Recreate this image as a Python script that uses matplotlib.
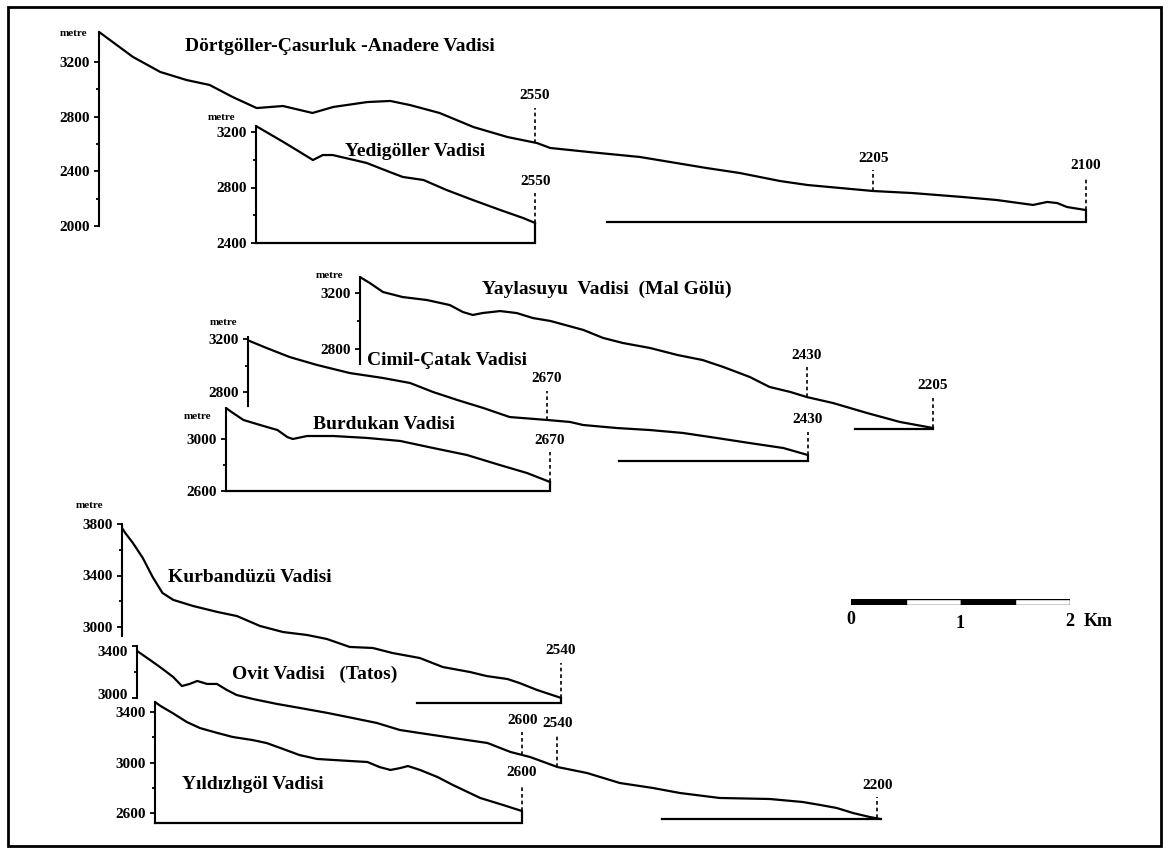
import numpy as np
import matplotlib
matplotlib.use("Agg")
import matplotlib.pyplot as plt
import matplotlib.transforms as mtransforms
from matplotlib.patches import Rectangle

plt.rcParams["font.family"] = ["Liberation Serif", "DejaVu Serif"]
plt.rcParams["font.weight"] = "bold"

# ---------------- data: distance along valley (km) and elevation (m) ----------------
dortgoller_km = [0.00, 0.10, 0.31, 0.56, 0.80, 1.01, 1.22, 1.44, 1.68, 1.95, 2.14, 2.45, 2.66, 2.84,
                 3.11, 3.42, 3.73, 4.00, 4.12, 4.48, 4.94, 5.55, 5.85, 6.22, 6.47, 7.07, 7.43, 7.89,
                 8.20, 8.53, 8.66, 8.75, 8.84, 9.01]
dortgoller_m = [3420, 3361, 3237, 3127, 3068, 3032, 2944, 2863, 2878, 2827, 2871, 2907, 2915, 2885,
                2827, 2724, 2651, 2607, 2571, 2541, 2505, 2424, 2388, 2329, 2300, 2256, 2241, 2212,
                2190, 2154, 2176, 2168, 2139, 2117]

yedigoller_km = [0.00, 0.25, 0.40, 0.52, 0.61, 0.70, 1.01, 1.22, 1.34, 1.53, 1.74, 1.98, 2.23, 2.44, 2.55]
yedigoller_m = [3243, 3128, 3056, 2998, 3034, 3034, 2977, 2912, 2876, 2854, 2782, 2710, 2638, 2580, 2544]

yaylasuyu_km = [0.00, 0.09, 0.21, 0.39, 0.61, 0.82, 0.94, 1.03, 1.12, 1.28, 1.43, 1.58, 1.74, 2.04,
                2.22, 2.40, 2.65, 2.90, 3.13, 3.32, 3.56, 3.74, 3.93, 4.08, 4.32, 4.63, 4.93, 5.23]
yaylasuyu_m = [3314, 3271, 3207, 3171, 3150, 3114, 3064, 3043, 3057, 3071, 3057, 3021, 3000, 2936,
               2879, 2843, 2807, 2757, 2721, 2671, 2600, 2529, 2493, 2457, 2414, 2343, 2279, 2236]

cimil_km = [0.00, 0.17, 0.38, 0.63, 0.93, 1.23, 1.48, 1.69, 1.91, 2.15, 2.39, 2.73, 2.94, 3.06,
            3.37, 3.67, 3.97, 4.28, 4.58, 4.89, 5.11]
cimil_m = [3190, 3132, 3064, 3004, 2943, 2906, 2868, 2800, 2740, 2679, 2611, 2589, 2574, 2551,
           2528, 2513, 2491, 2453, 2415, 2377, 2325]

burdukan_km = [0.00, 0.05, 0.16, 0.31, 0.47, 0.56, 0.61, 0.74, 0.98, 1.29, 1.59, 1.89, 2.20, 2.50, 2.75, 2.96]
burdukan_m = [3238, 3208, 3146, 3108, 3069, 3015, 3000, 3023, 3023, 3008, 2985, 2931, 2877, 2800, 2738, 2669]

kurbanduzu_km = [0.00, 0.03, 0.10, 0.19, 0.28, 0.37, 0.47, 0.65, 0.87, 1.05, 1.26, 1.47, 1.69, 1.87,
                 2.08, 2.29, 2.47, 2.72, 2.93, 3.18, 3.33, 3.52, 3.63, 3.79, 4.01]
kurbanduzu_m = [3769, 3730, 3652, 3536, 3388, 3264, 3210, 3163, 3117, 3085, 3008, 2961, 2938, 2907,
                2845, 2837, 2798, 2759, 2689, 2650, 2619, 2596, 2565, 2511, 2449]

ovit_km = [0.00, 0.12, 0.21, 0.33, 0.41, 0.48, 0.55, 0.64, 0.73, 0.82, 0.91, 1.06, 1.28, 1.49, 1.74,
           1.97, 2.19, 2.40, 2.58, 2.89, 3.20, 3.41, 3.59, 3.84, 4.11, 4.41, 4.71, 4.96, 5.32, 5.78,
           6.08, 6.24, 6.39, 6.54, 6.69, 6.79]
ovit_m = [3362, 3292, 3238, 3162, 3092, 3108, 3131, 3108, 3108, 3062, 3023, 2992, 2954, 2923, 2885,
          2846, 2808, 2754, 2731, 2692, 2654, 2585, 2546, 2469, 2423, 2346, 2308, 2269, 2231, 2223,
          2200, 2177, 2154, 2115, 2085, 2069]

yildizligol_km = [0.00, 0.05, 0.16, 0.29, 0.41, 0.57, 0.71, 0.89, 1.02, 1.17, 1.32, 1.48, 1.63, 1.78,
                  1.94, 2.05, 2.15, 2.24, 2.31, 2.42, 2.58, 2.72, 2.97, 3.18, 3.35]
yildizligol_m = [3479, 3448, 3392, 3321, 3273, 3234, 3202, 3178, 3154, 3107, 3059, 3028, 3020, 3012,
                 3004, 2964, 2941, 2956, 2972, 2941, 2885, 2822, 2719, 2663, 2616]

# valley names
names = ["Dörtgöller-Çasurluk -Anadere Vadisi", "Yedigöller Vadisi", "Yaylasuyu  Vadisi  (Mal Gölü)",
         "Cimil-Çatak Vadisi", "Burdukan Vadisi", "Kurbandüzü Vadisi", "Ovit Vadisi   (Tatos)",
         "Yıldızlıgöl Vadisi"]

# floor (base) line of each profile: start km and elevation
base_start_km = [4.64, 0.0, 4.52, 3.39, 0.0, 2.69, 4.79, 0.0]
base_m = [2029, 2400, 2229, 2279, 2600, 2410, 2068, 2521]

# marked points (km) and their elevation labels
marks_km = [[3.98, 7.07, 9.01], [2.55], [4.08, 5.23], [2.73, 5.11], [2.96], [4.01], [3.52, 3.84, 6.76], [3.35]]
marks_lbl = [["2550", "2205", "2100"], ["2550"], ["2430", "2205"], ["2670", "2430"], ["2670"], ["2540"],
             ["2600", "2540", "2200"], ["2600"]]

# y-axis ticks of each profile
major_ticks = [[2000, 2400, 2800, 3200], [2400, 2800, 3200], [2800, 3200], [2800, 3200], [2600, 3000],
               [3000, 3400, 3800], [3000, 3400], [2600, 3000, 3400]]
minor_ticks = [[2200, 2600, 3000], [2600, 3000], [3000], [3000], [2800], [3200, 3600], [3200], [2800, 3200]]
spine_range = [(2000, 3420), (2400, 3243), (2693, 3314), (2694, 3215), (2600, 3238), (2930, 3800),
               (3000, 3400), (2521, 3479)]

scale_km = [0, 0.5, 1.0, 1.5]
scale_labels = ["0", "1", "2"]
scale_label_km = [0, 1, 2]

# ---------------- layout (pixels in a 1168 x 850 canvas) ----------------
W, H, DPI = 1168, 850, 100
PX_PER_KM = 109.5
layout = [
    dict(x0=99, cal=(62, 3200, 226, 2000), dash=[35, 21, 33], metre=(74, 33), title=(185, 51), lab_dy=None),
    dict(x0=256, cal=(132, 3200, 243, 2400), dash=[30], metre=(222, 117), title=(345, 156), lab_dy=None),
    dict(x0=360, cal=(293, 3200, 349, 2800), dash=[30, 30], metre=(330, 276), title=(482, 294), lab_dy=None),
    dict(x0=248, cal=(339, 3200, 392, 2800), dash=[29, 23], metre=(223, 322), title=(367, 365), lab_dy=None),
    dict(x0=226, cal=(439, 3000, 491, 2600), dash=[30], metre=(198, 416), title=(313, 429), lab_dy=None),
    dict(x0=122, cal=(524, 3800, 627, 3000), dash=[35], metre=(90, 505), title=(168, 582), lab_dy=None),
    dict(x0=137, cal=(646, 3400, 698, 3000), dash=[23, 32, 21], metre=None, title=(232, 679), lab_dy=[4, -5]),
    dict(x0=155, cal=(712, 3400, 813, 2600), dash=[26], metre=None, title=(182, 789), lab_dy=None),
]
profiles_km = [dortgoller_km, yedigoller_km, yaylasuyu_km, cimil_km, burdukan_km, kurbanduzu_km, ovit_km, yildizligol_km]
profiles_m = [dortgoller_m, yedigoller_m, yaylasuyu_m, cimil_m, burdukan_m, kurbanduzu_m, ovit_m, yildizligol_m]

fig = plt.figure(figsize=(W / DPI, H / DPI), dpi=DPI)
fig.patch.set_facecolor("white")

LW = 1.6
for i, lay in enumerate(layout):
    km, m = profiles_km[i], profiles_m[i]
    ya, ma, yb, mb = lay["cal"]
    s = (yb - ya) / (ma - mb)          # px per metre
    lo, hi = spine_range[i]
    top_px = ya + (ma - hi) * s
    bot_px = ya + (ma - lo) * s
    span = max(km)
    ax = fig.add_axes([lay["x0"] / W, 1 - bot_px / H, span * PX_PER_KM / W, (bot_px - top_px) / H])
    ax.set_xlim(0, span)
    ax.set_ylim(lo, hi)
    ax.patch.set_alpha(0)
    for sp in ("top", "right", "bottom"):
        ax.spines[sp].set_visible(False)
    ax.spines["left"].set_linewidth(1.5)
    ax.set_xticks([])
    ax.set_yticks(major_ticks[i])
    ax.set_yticklabels([str(v) for v in major_ticks[i]])
    ax.set_yticks(minor_ticks[i], minor=True)
    ax.tick_params(axis="y", which="major", direction="out", length=3.5, width=1.3, pad=3,
                   labelsize=11)
    ax.tick_params(axis="y", which="minor", direction="out", length=2.5, width=1.3)
    for j, lab in enumerate(ax.get_yticklabels()):
        lab.set_fontweight("bold")
        if lay["lab_dy"] is not None:
            off = mtransforms.ScaledTranslation(0, lay["lab_dy"][j] / DPI, fig.dpi_scale_trans)
            lab.set_transform(lab.get_transform() + off)
    ax.plot(km, m, color="black", lw=LW, clip_on=False, solid_joinstyle="round", solid_capstyle="round")
    ax.plot([base_start_km[i], km[-1], km[-1]], [base_m[i], base_m[i], m[-1]], color="black", lw=LW,
            clip_on=False, solid_joinstyle="miter")
    mpp = 1.0 / s
    for mk, lbl, dpx in zip(marks_km[i], marks_lbl[i], lay["dash"]):
        y0 = np.interp(mk, km, m)
        ytop = y0 + dpx * mpp
        ax.plot([mk, mk], [y0, ytop], color="black", lw=1.2, ls=(0, (2.2, 1.8)), clip_on=False)
        ax.text(mk, ytop + 12 * mpp, lbl, ha="center", va="center", fontsize=11, fontweight="bold",
                clip_on=False)
    if lay["metre"] is not None:
        fig.text(lay["metre"][0] / W, 1 - lay["metre"][1] / H, "metre", ha="center", va="center",
                 fontsize=8, fontweight="bold")
    fig.text(lay["title"][0] / W, 1 - lay["title"][1] / H, names[i], ha="left", va="baseline",
             fontsize=14, fontweight="bold")

# ---------------- scale bar ----------------
sb = fig.add_axes([851 / W, 1 - 605 / H, 2 * PX_PER_KM / W, 6 / H])
sb.set_xlim(0, 2)
sb.set_ylim(0, 1)
sb.barh(0.5, width=0.5, left=scale_km, height=1, color=["black", "white", "black", "white"],
        edgecolor="black", linewidth=1.0)
sb.axis("off")
for k, t, dy in zip(scale_label_km, scale_labels, [14, 18, 16]):
    sb.annotate(t, (k, 0), xytext=(0, -dy * 72 / DPI), textcoords="offset points", ha="center",
                va="center", fontsize=13, fontweight="bold", annotation_clip=False)
sb.annotate("Km", (2, 0), xytext=(28 * 72 / DPI, -16 * 72 / DPI), textcoords="offset points",
            ha="center", va="center", fontsize=13, fontweight="bold", annotation_clip=False)

# ---------------- frame ----------------
fig.add_artist(Rectangle((8 / W, 1 - 846 / H), (1161 - 8) / W, (846 - 7) / H, transform=fig.transFigure,
                         fill=False, lw=2.0, ec="black"))

fig.savefig("out.png", dpi=DPI, facecolor="white")
